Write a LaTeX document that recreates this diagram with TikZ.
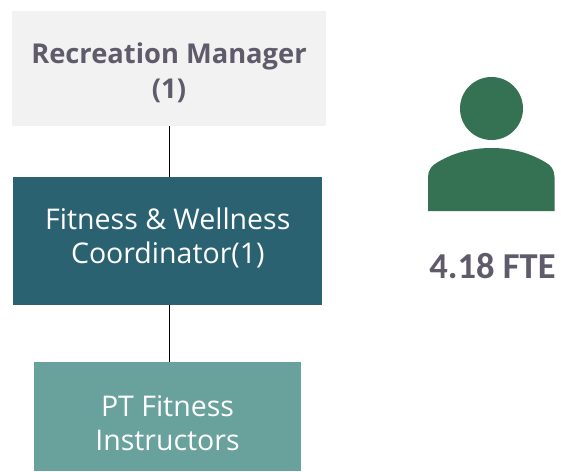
\documentclass[tikz,border=0pt]{standalone}
\usepackage{xcolor}
\usepackage{fontspec}
\setmainfont{Open Sans}
\newfontfamily\boldfont{Carlito}
\definecolor{mgrfill}{HTML}{F2F2F2}
\definecolor{mgrtext}{HTML}{5F5B6B}
\definecolor{coordfill}{HTML}{2B6272}
\definecolor{instrfill}{HTML}{69A19C}
\definecolor{personfill}{HTML}{357153}
\begin{document}
\begin{tikzpicture}[x=1pt,y=-1pt,
	box/.style={anchor=center,align=center,inner sep=0pt,font=\fontsize{28.5}{33.5}\selectfont},
	link/.style={draw=black,line width=1.2pt}]
	\useasboundingbox (0,0) rectangle (561,471);
	\node[box,fill=mgrfill,text=mgrtext,minimum width=314,minimum height=115,font=\fontsize{27.3}{35}\selectfont\bfseries] (manager) at (169,68.5) {\rule{0pt}{30pt}Recreation Manager\\(1)};
	\node[box,fill=coordfill,text=white,minimum width=309,minimum height=128] (coordinator) at (167.8,241) {Fitness \& Wellness\\Coordinator(1)\rule[-11pt]{0pt}{0pt}};
	\node[box,fill=instrfill,text=white,minimum width=267,minimum height=109] (instructors) at (167.5,416.5) {\rule{0pt}{34pt}PT Fitness\\Instructors};
	\draw[link] (manager) ++(0.3,57.5) -- ([xshift=1.5pt]coordinator.north);
	\draw[link] ([xshift=1.5pt]coordinator.south) -- ([xshift=1.8pt]instructors.north);
	% person icon
	\fill[personfill] (491.5,108.5) circle[radius=31.5];
	\fill[personfill] (428,211) -- (428,177) .. controls (428,170) and (432,165) .. (438,162) .. controls (455,152) and (473,148) .. (491.5,148) .. controls (510,148) and (528,152) .. (545,162) .. controls (551,165) and (554.5,170) .. (554.5,177) -- (554.5,211) -- cycle;
	\node[anchor=center,inner sep=0pt,text=mgrtext,font=\boldfont\fontsize{36.5}{40}\selectfont\bfseries] (fte) at (492.5,266) {4.18 FTE};
\end{tikzpicture}
\end{document}
